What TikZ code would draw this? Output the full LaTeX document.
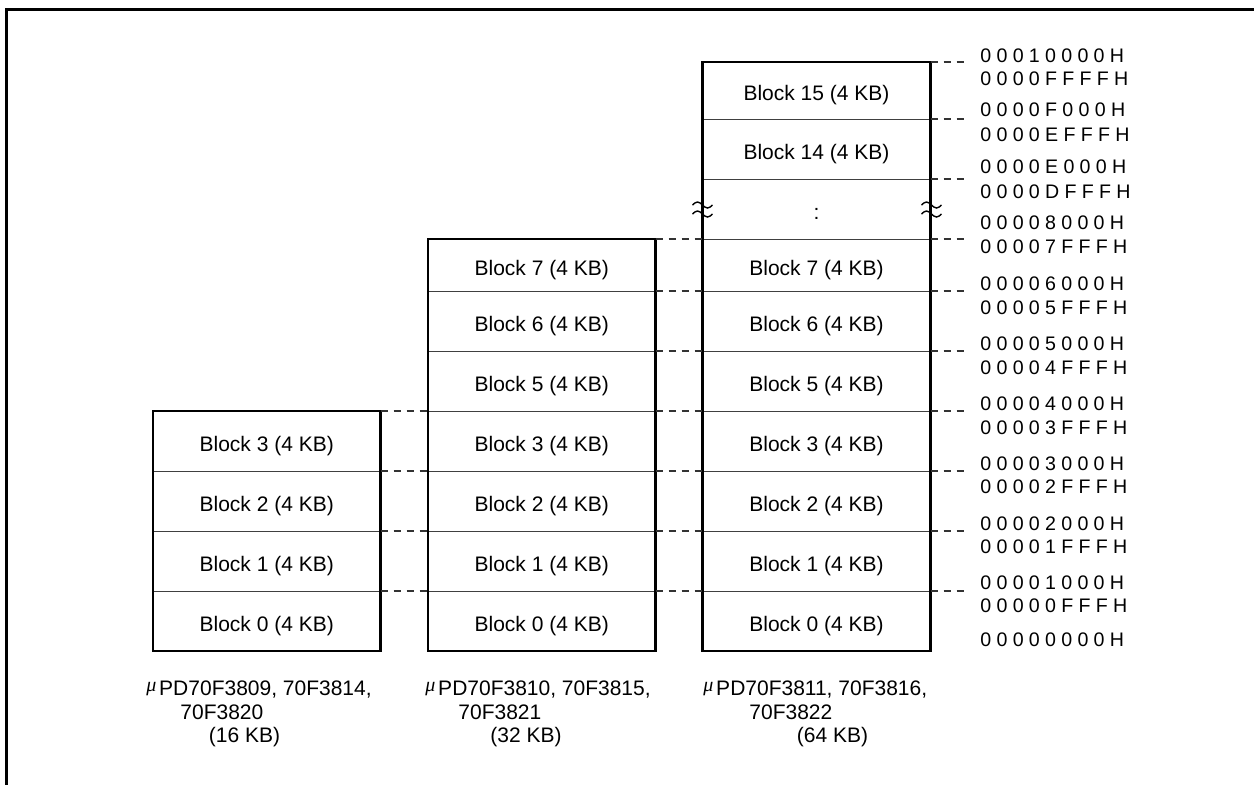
\documentclass[tikz,border=0pt]{standalone}
\usepackage{fontspec}
\setmainfont{Liberation Sans}
\newfontfamily\addrfont[LetterSpace=27]{Liberation Sans}
\newfontfamily\mufont{Liberation Serif}
\newcommand\blockfont{\fontsize{10.5pt}{12pt}\selectfont}
\newcommand\mumark{{\mufont\itshape\fontsize{10pt}{11pt}\selectfont\raisebox{2.2pt}{μ}}\hspace{1.4pt}}
\tikzset{
  blk/.style={draw=black!75, line width=0.5pt, inner sep=0pt, outer sep=0pt,
    font=\blockfont, text height=10.5pt, text depth=0.5pt},
  border/.style={draw=black, line width=1.35pt},
  dashln/.style={draw=black!80, line width=0.65pt, dash pattern=on 3.5pt off 3pt},
  addr/.style={anchor=base west, inner sep=0pt, font=\addrfont\fontsize{9.8pt}{11pt}\selectfont},
  capt/.style={anchor=base west, inner sep=0pt, font=\blockfont},
  brkmark/.style={line width=0.7pt},
}
\newcommand\memblk[6]{%
  \pgfmathsetlengthmacro\mw{(#3-#2)*0.5pt}%
  \pgfmathsetlengthmacro\mh{(#5-#4)*0.5pt}%
  \node[blk, minimum width=\mw, minimum height=\mh] (#1) at ({(#2+#3)/2},{(#4+#5)/2}) {#6};}
\newcommand\brk[2]{\draw[brkmark] ({#1-10},{#2}) sin ({#1-5},{#2-3}) cos ({#1},{#2}) sin ({#1+5},{#2+3}) cos ({#1+10},{#2});}
\begin{document}
\begin{tikzpicture}[x=0.5pt,y=-0.5pt]
\useasboundingbox (0,0) rectangle (1254,784);
% frame
\draw[line width=1.5pt] (6.5,790) -- (6.5,9.7) -- (1260,9.7);
% column 1
\memblk{c1b3}{153}{380.5}{411}{471}{Block 3 (4 KB)}
\memblk{c1b2}{153}{380.5}{471}{531}{Block 2 (4 KB)}
\memblk{c1b1}{153}{380.5}{531}{591}{Block 1 (4 KB)}
\memblk{c1b0}{153}{380.5}{591}{651}{Block 0 (4 KB)}
% column 2
\memblk{c2b7}{428}{655.5}{239}{291}{Block 7 (4 KB)}
\memblk{c2b6}{428}{655.5}{291}{351}{Block 6 (4 KB)}
\memblk{c2b5}{428}{655.5}{351}{411}{Block 5 (4 KB)}
\memblk{c2b3}{428}{655.5}{411}{471}{Block 3 (4 KB)}
\memblk{c2b2}{428}{655.5}{471}{531}{Block 2 (4 KB)}
\memblk{c2b1}{428}{655.5}{531}{591}{Block 1 (4 KB)}
\memblk{c2b0}{428}{655.5}{591}{651}{Block 0 (4 KB)}
% column 3
\memblk{c3b15}{702.5}{930.5}{62}{119}{Block 15 (4 KB)}
\memblk{c3b14}{702.5}{930.5}{119}{179}{Block 14 (4 KB)}
\memblk{c3gap}{702.5}{930.5}{179}{239}{:}
\memblk{c3b7}{702.5}{930.5}{239}{291}{Block 7 (4 KB)}
\memblk{c3b6}{702.5}{930.5}{291}{351}{Block 6 (4 KB)}
\memblk{c3b5}{702.5}{930.5}{351}{411}{Block 5 (4 KB)}
\memblk{c3b3}{702.5}{930.5}{411}{471}{Block 3 (4 KB)}
\memblk{c3b2}{702.5}{930.5}{471}{531}{Block 2 (4 KB)}
\memblk{c3b1}{702.5}{930.5}{531}{591}{Block 1 (4 KB)}
\memblk{c3b0}{702.5}{930.5}{591}{651}{Block 0 (4 KB)}
% thick outlines
\draw[border] (c1b3.north west) rectangle (c1b0.south east);
\draw[border] (c2b7.north west) rectangle (c2b0.south east);
\draw[border] (c3b15.north west) rectangle (c3b0.south east);
% break marks
\brk{702.5}{205}
\brk{702.5}{214}
\brk{931.5}{205}
\brk{931.5}{214}
% dashed lines between columns
\foreach \b in {b3,b2,b1,b0}
  \draw[dashln] (c1\b.north east) -- (c2\b.north west);
\foreach \b in {b7,b6,b5,b3,b2,b1,b0}
  \draw[dashln] (c2\b.north east) -- (c3\b.north west);
% dashed lines to addresses
\foreach \b in {b15,b14,gap,b7,b6,b5,b3,b2,b1,b0}{
  \coordinate (r\b) at ([xshift=19pt]c3\b.north east);
  \draw[dashln] (c3\b.north east) -- (r\b);
}
% addresses
\node[addr] (a1)  at (980,62.4)  {00010000H};
\node[addr] (a2)  at (980,85.7)  {0000FFFFH};
\node[addr] (a3)  at (980,116.7) {0000F000H};
\node[addr] (a4)  at (980,141)   {0000EFFFH};
\node[addr] (a5)  at (980,173.4) {0000E000H};
\node[addr] (a6)  at (980,198.4) {0000DFFFH};
\node[addr] (a7)  at (980,229.7) {00008000H};
\node[addr] (a8)  at (980,253.4) {00007FFFH};
\node[addr] (a9)  at (980,290.7) {00006000H};
\node[addr] (a10) at (980,314)   {00005FFFH};
\node[addr] (a11) at (980,350.7) {00005000H};
\node[addr] (a12) at (980,374)   {00004FFFH};
\node[addr] (a13) at (980,410.7) {00004000H};
\node[addr] (a14) at (980,434)   {00003FFFH};
\node[addr] (a15) at (980,470.7) {00003000H};
\node[addr] (a16) at (980,493.7) {00002FFFH};
\node[addr] (a17) at (980,530.7) {00002000H};
\node[addr] (a18) at (980,553.2) {00001FFFH};
\node[addr] (a19) at (980,589.4) {00001000H};
\node[addr] (a20) at (980,612.4) {00000FFFH};
\node[addr] (a21) at (980,646)   {00000000H};
% captions
\node[capt] (k1a) at (146,695.5) {\mumark PD70F3809, 70F3814,};
\node[capt] (k1b) at (180,719.2) {70F3820};
\node[capt] (k1c) at (208.5,742.5) {(16 KB)};
\node[capt] (k2a) at (425,695.5) {\mumark PD70F3810, 70F3815,};
\node[capt] (k2b) at (458,719.2) {70F3821};
\node[capt] (k2c) at (490,742.5) {(32 KB)};
\node[capt] (k3a) at (703,695.5) {\mumark PD70F3811, 70F3816,};
\node[capt] (k3b) at (749,719.2) {70F3822};
\node[capt] (k3c) at (796.5,742.5) {(64 KB)};
\end{tikzpicture}
\end{document}
